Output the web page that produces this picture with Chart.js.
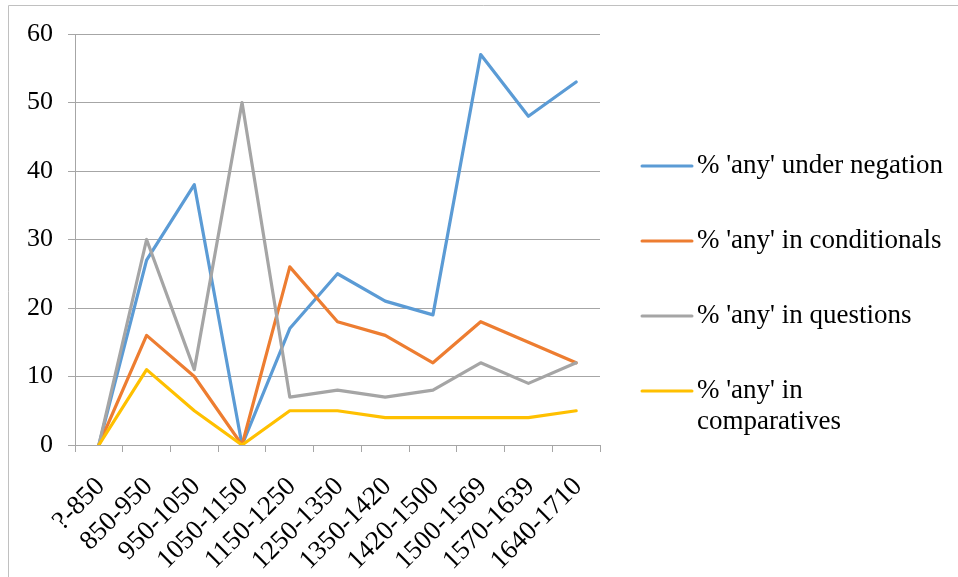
<!DOCTYPE html>
<html>
<head>
<meta charset="utf-8">
<title>'any' usage by period</title>
<script src="https://cdn.jsdelivr.net/npm/chart.js@4.4.1/dist/chart.umd.min.js"></script>
<style>
  html, body { margin: 0; padding: 0; background: #fff; }
  #wrap { width: 958px; height: 577px; position: relative; }
</style>
</head>
<body>
<div id="wrap"><canvas id="chartAny" width="958" height="577"></canvas></div>
<script>
const periods = ["?-850", "850-950", "950-1050", "1050-1150", "1150-1250", "1250-1350",
  "1350-1420", "1420-1500", "1500-1569", "1570-1639", "1640-1710"];
const underNegation = [0, 27, 38, 0, 17, 25, 21, 19, 57, 48, 53];
const inConditionals = [0, 16, 10, 0, 26, 18, 16, 12, 18, 15, 12];
const inQuestions = [0, 30, 11, 50, 7, 8, 7, 8, 12, 9, 12];
const inComparatives = [0, 11, 5, 0, 5, 5, 4, 4, 4, 4, 5];
const seriesNames = [
  ["% 'any' under negation"],
  ["% 'any' in conditionals"],
  ["% 'any' in questions"],
  ["% 'any' in", "comparatives"]
];
const seriesColors = ["#5b9bd5", "#ed7d31", "#a5a5a5", "#ffc000"];

const FONT = "'Liberation Serif', 'Times New Roman', serif";
const gridGrey = "#a6a6a6";

// outer frame plus a hand-drawn legend on the right
const frameAndLegend = {
  id: "frameAndLegend",
  afterDraw(chart) {
    const ctx = chart.ctx;
    ctx.save();
    ctx.strokeStyle = "#c0c0c0";
    ctx.lineWidth = 1;
    ctx.beginPath();
    ctx.moveTo(8.5, 577);
    ctx.lineTo(8.5, 5.5);
    ctx.lineTo(958, 5.5);
    ctx.stroke();

    ctx.font = "27px " + FONT;
    ctx.fillStyle = "#000";
    ctx.textBaseline = "middle";
    ctx.textAlign = "left";
    let y = 166;
    chart.data.datasets.forEach((ds, i) => {
      ctx.strokeStyle = ds.borderColor;
      ctx.lineWidth = 3;
      ctx.lineCap = "round";
      ctx.beginPath();
      ctx.moveTo(642, y);
      ctx.lineTo(692, y);
      ctx.stroke();
      seriesNames[i].forEach((line, j) => {
        ctx.fillText(line, 697, y + j * 31);
      });
      y += 75;
    });
    ctx.restore();
  }
};

const makeSet = (i, data) => ({
  label: seriesNames[i].join(" "),
  data: data,
  borderColor: seriesColors[i],
  backgroundColor: seriesColors[i],
  borderWidth: 3.2,
  pointRadius: 0,
  tension: 0,
  borderJoinStyle: "round",
  borderCapStyle: "round",
  order: 4 - i
});

new Chart(document.getElementById("chartAny"), {
  type: "line",
  data: {
    labels: periods,
    datasets: [
      makeSet(0, underNegation),
      makeSet(1, inConditionals),
      makeSet(2, inQuestions),
      makeSet(3, inComparatives)
    ]
  },
  options: {
    responsive: false,
    animation: false,
    layout: { padding: { top: 34, right: 358, left: 0, bottom: 0 } },
    plugins: { legend: { display: false }, tooltip: { enabled: false } },
    scales: {
      x: {
        offset: true,
        grid: { offset: true, drawOnChartArea: false, drawTicks: true, tickLength: 7, color: gridGrey },
        border: { color: gridGrey },
        ticks: {
          color: "#000",
          font: { family: FONT, size: 27 },
          minRotation: 45,
          maxRotation: 45,
          autoSkip: false,
          padding: 19,
          labelOffset: 2
        },
        afterFit(scale) { scale.height = 132; }
      },
      y: {
        min: 0,
        max: 60,
        ticks: {
          stepSize: 10,
          color: "#000",
          font: { family: FONT, size: 26 },
          padding: 15
        },
        grid: { color: gridGrey, tickLength: 7 },
        border: { color: gridGrey },
        afterFit(scale) { scale.width = 75; }
      }
    }
  },
  plugins: [frameAndLegend]
});
</script>
</body>
</html>
